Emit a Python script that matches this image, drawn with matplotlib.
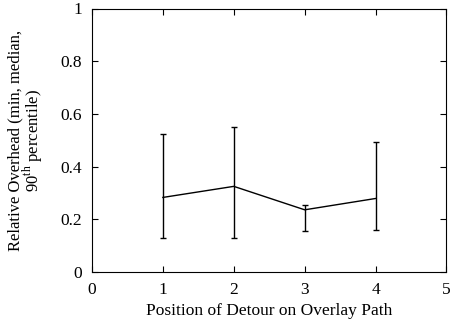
import matplotlib
matplotlib.use("Agg")
import matplotlib.pyplot as plt

plt.rcParams['font.family'] = ['Liberation Serif', 'DejaVu Serif']
plt.rcParams['mathtext.fontset'] = 'custom'
plt.rcParams['mathtext.rm'] = 'Liberation Serif'

position = [1, 2, 3, 4]
median = [0.283, 0.325, 0.236, 0.279]
minimum = [0.130, 0.128, 0.156, 0.160]
pct90 = [0.525, 0.552, 0.254, 0.495]

lower = [m - lo for m, lo in zip(median, minimum)]
upper = [hi - m for m, hi in zip(median, pct90)]

fig = plt.figure(figsize=(4.52, 3.29), dpi=100)
ax = fig.add_axes([92 / 452, 57 / 329, 354.5 / 452, 263.5 / 329])

ax.errorbar(position, median, yerr=[lower, upper], color='black',
            linewidth=1, elinewidth=1, capsize=2.5, capthick=1)

ax.set_xlim(0, 5)
ax.set_ylim(0, 1)
ax.set_xticks([0, 1, 2, 3, 4, 5])
ax.set_yticks([0, 0.2, 0.4, 0.6, 0.8, 1])
ax.set_yticklabels(['0', '0.2', '0.4', '0.6', '0.8', '1'])
ax.tick_params(direction='in', top=True, right=True, length=4, width=0.8,
               labelsize=12.5, pad=7)
for s in ax.spines.values():
    s.set_linewidth(0.8)

ax.set_xlabel('Position of Detour on Overlay Path', fontsize=12.5, labelpad=4)
ax.set_ylabel('Relative Overhead (min, median,\n90$^{\\rm th}$ percentile)',
              fontsize=12, linespacing=0.85, labelpad=11)

fig.savefig('out.png', dpi=100)
